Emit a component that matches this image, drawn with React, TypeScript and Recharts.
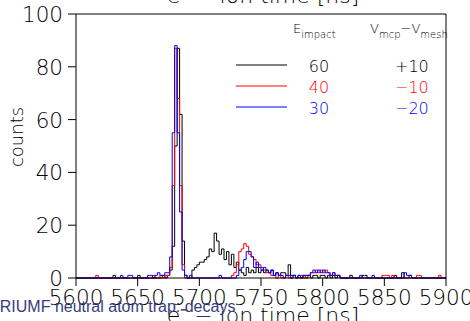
import { LineChart, Line, XAxis, YAxis, Legend } from "recharts";

// histogram binning: 2 ns bins starting at 5600 ns
const T0 = 5600;
const BIN = 2;

const X_TICKS = [5600, 5650, 5700, 5750, 5800, 5850, 5900];
const Y_TICKS = [0, 20, 40, 60, 80, 100];

// counts per bin, 150 bins (5600..5898)
const BLACK_COUNTS = [
  0, 0, 0, 0, 0, 0, 0, 0, 0, 0, 0, 0, 0, 0, 0, 1, 0, 0, 0, 0, 0, 0, 0, 0, 0,
  1, 0, 0, 0, 0, 0, 0, 0, 0, 0, 1, 0, 1, 3, 12, 50, 87, 62, 14, 1, 0, 0, 3, 4, 5,
  6, 6, 7, 8, 11, 10, 17, 14, 9, 11, 7, 10, 5, 9, 4, 6, 3, 2, 1, 4, 2, 3, 2, 4, 2,
  3, 2, 3, 2, 3, 1, 2, 1, 2, 2, 1, 5, 1, 1, 0, 1, 0, 1, 0, 1, 0, 1, 1, 0, 1,
  1, 0, 1, 0, 1, 0, 1, 0, 0, 0, 0, 1, 0, 0, 0, 0, 1, 1, 0, 0, 0, 0, 0, 0, 0,
  0, 0, 0, 0, 1, 0, 0, 2, 0, 0, 1, 0, 0, 0, 0, 0, 0, 0, 0, 0, 0, 0, 0, 0, 0,
];

const RED_COUNTS = [
  0, 0, 0, 0, 0, 0, 0, 0, 1, 0, 0, 0, 0, 0, 0, 0, 0, 0, 0, 0, 0, 0, 0, 0, 0,
  0, 0, 0, 0, 0, 0, 1, 0, 0, 1, 0, 1, 1, 4, 35, 87, 68, 35, 5, 0, 0, 0, 0, 0, 0,
  0, 0, 0, 0, 0, 0, 0, 0, 0, 0, 0, 0, 0, 1, 2, 5, 10, 11, 13, 12, 9, 8, 7, 5, 5,
  4, 3, 2, 2, 1, 1, 0, 1, 0, 0, 1, 0, 0, 1, 0, 0, 1, 0, 1, 1, 2, 2, 3, 2, 3,
  2, 3, 2, 1, 2, 1, 1, 0, 0, 0, 0, 0, 0, 0, 0, 0, 0, 0, 0, 0, 0, 0, 0, 0, 1,
  1, 1, 0, 1, 0, 0, 0, 0, 0, 0, 0, 0, 0, 1, 1, 0, 0, 0, 0, 0, 0, 0, 1, 0, 0,
];

const BLUE_COUNTS = [
  0, 0, 0, 0, 0, 0, 0, 0, 0, 0, 0, 0, 0, 0, 0, 0, 0, 0, 1, 0, 0, 1, 1, 0, 0,
  0, 0, 0, 0, 1, 1, 0, 1, 2, 1, 1, 2, 2, 8, 55, 88, 55, 25, 3, 1, 0, 1, 0, 0, 0,
  0, 0, 0, 0, 0, 0, 0, 0, 1, 0, 0, 0, 0, 0, 0, 1, 3, 4, 7, 10, 10, 8, 4, 6, 4,
  3, 4, 3, 2, 3, 1, 2, 1, 1, 0, 1, 1, 0, 1, 0, 1, 0, 1, 1, 1, 2, 3, 2, 3, 2,
  3, 2, 2, 1, 2, 1, 1, 0, 0, 0, 0, 0, 0, 0, 0, 1, 0, 0, 0, 0, 1, 0, 0, 0, 0,
  0, 0, 0, 0, 0, 0, 0, 0, 2, 1, 1, 0, 0, 0, 0, 0, 0, 0, 0, 0, 0, 0, 0, 0, 0,
];

// legend table
const E_IMPACT = [60, 40, 30];
const V_DIFF = ["+10", "\u221210", "\u221220"];
const SERIES_KEYS = ["black", "red", "blue"];
const SERIES_COLORS = ["#000000", "#ff0000", "#0000ff"];

const X_TITLE = "e\u207B \u2212 ion time [ns]";
const Y_TITLE = "counts";
const NOTE = "TRIUMF neutral atom trap: decays";

const FONT = "'DejaVu Sans', sans-serif";
const THIN = 200;

const rows = BLACK_COUNTS.map((c, i) => ({
  t: T0 + i * BIN,
  black: c,
  red: RED_COUNTS[i],
  blue: BLUE_COUNTS[i],
}));
// closing edge so the last step reaches 5900
rows.push({
  t: T0 + BLACK_COUNTS.length * BIN,
  black: BLACK_COUNTS[BLACK_COUNTS.length - 1],
  red: RED_COUNTS[RED_COUNTS.length - 1],
  blue: BLUE_COUNTS[BLUE_COUNTS.length - 1],
});

function XTick({ x, y, payload }: any) {
  return (
    <text x={x} y={y + 17} textAnchor="middle" fontFamily={FONT} fontWeight={THIN} fontSize={21.5} fill="#000">
      {payload.value}
    </text>
  );
}

function YTick({ x, y, payload }: any) {
  return (
    <text x={x - 3} y={y + 8} textAnchor="end" fontFamily={FONT} fontWeight={THIN} fontSize={21.5} fill="#000">
      {payload.value}
    </text>
  );
}

/* legend table + titles drawn over the whole chart */
function Overlay() {
  return (
    <svg width={470} height={321} style={{ display: "block" }}>
      <g fontFamily={FONT} fontWeight={THIN}>
        <text x={263} y={3} textAnchor="middle" fontSize={22}>{X_TITLE}</text>
        <text x={263} y={323} textAnchor="middle" fontSize={22}>{X_TITLE}</text>
        <text transform="translate(23,137) rotate(-90)" textAnchor="middle" fontSize={18}>
          {Y_TITLE}
        </text>

        <text x={293} y={33} fontSize={13}>
          E<tspan dy={5} fontSize={10}>impact</tspan>
        </text>
        <text x={370} y={33} fontSize={13}>
          V<tspan dy={5} fontSize={10}>mcp</tspan>
          <tspan dy={-5}>{"\u2212"}V</tspan>
          <tspan dy={5} fontSize={10}>mesh</tspan>
        </text>
        {SERIES_KEYS.map((k, i) => (
          <g key={k}>
            <line x1={236} x2={287} y1={65 + i * 21} y2={65 + i * 21} stroke={SERIES_COLORS[i]} strokeWidth={1} />
            <text x={319} y={72 + i * 21} textAnchor="middle" fontSize={16} fill={SERIES_COLORS[i]}>
              {E_IMPACT[i]}
            </text>
            <text x={395} y={72 + i * 21} fontSize={16} fill={SERIES_COLORS[i]}>
              {V_DIFF[i]}
            </text>
          </g>
        ))}
      </g>

      <text x={-10} y={312} fontFamily="'Liberation Sans', Arial, sans-serif" fontSize={16} fill="#383c7e">
        {NOTE}
      </text>
    </svg>
  );
}

export default function App() {
  return (
    <div style={{ position: "fixed", left: 0, top: 0, width: 470, height: 321, background: "#fff" }}>
      <LineChart width={470} height={321} data={rows} margin={{ top: 0, right: 0, bottom: 0, left: 0 }}>
        <XAxis
          dataKey="t"
          type="number"
          domain={[5600, 5900]}
          ticks={X_TICKS}
          interval={0}
          height={43}
          tickSize={8}
          stroke="#000"
          tick={<XTick />}
        />
        <XAxis
          xAxisId="top"
          orientation="top"
          type="number"
          domain={[5600, 5900]}
          ticks={X_TICKS}
          interval={0}
          height={14}
          tickSize={8}
          stroke="#000"
          tick={false}
        />
        <YAxis
          type="number"
          domain={[0, 100]}
          ticks={Y_TICKS}
          interval={0}
          width={76}
          tickSize={8}
          stroke="#000"
          tick={<YTick />}
        />
        <YAxis
          yAxisId="right"
          orientation="right"
          type="number"
          domain={[0, 100]}
          ticks={Y_TICKS}
          interval={0}
          width={24}
          tickSize={7}
          stroke="#000"
          tick={false}
        />
        {SERIES_KEYS.map((k, i) => (
          <Line
            key={k}
            dataKey={k}
            type="stepAfter"
            stroke={SERIES_COLORS[i]}
            strokeWidth={1}
            dot={false}
            isAnimationActive={false}
          />
        ))}
        <Legend
          layout="horizontal"
          verticalAlign="middle"
          align="center"
          wrapperStyle={{ left: 0, top: 0, width: 470, height: 321, pointerEvents: "none" }}
          content={() => <Overlay />}
        />
      </LineChart>
    </div>
  );
}
